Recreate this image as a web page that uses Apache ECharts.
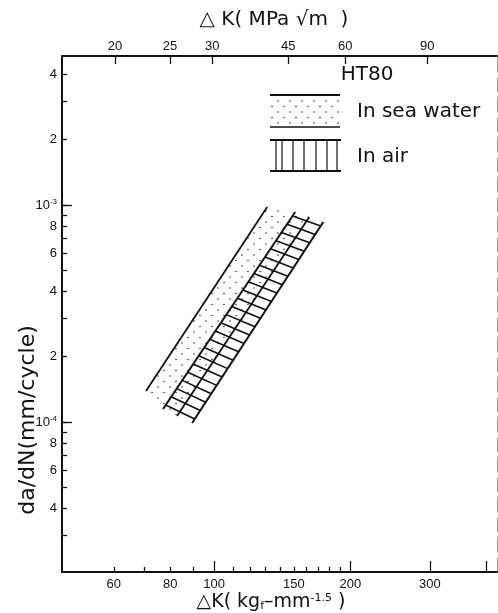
<!DOCTYPE html>
<html><head><meta charset="utf-8">
<script src="https://cdn.jsdelivr.net/npm/echarts@6/dist/echarts.min.js"></script>
<style>html,body{margin:0;padding:0;background:#fff}#c{width:498px;height:613px}</style>
</head><body><div id="c"></div>
<script>
// ---- data (ΔK in kgf·mm^-1.5, da/dN in mm/cycle) ----
const seaUpper = [[70.7, 1.39e-4], [131.0, 9.79e-4]];
const seaLower = [[82.8, 1.067e-4], [162.3, 8.81e-4]];
const airLeft  = [[77.1, 1.148e-4], [151.1, 9.28e-4]];
const airMid   = [[82.8, 1.067e-4], [162.3, 8.81e-4]];
const airRight = [[89.4, 9.9e-5], [174.3, 8.35e-4]];

const xMinorTicks = [60, 70, 80, 90, 110, 120, 130, 140, 150, 160, 170, 180, 190];
const xMajorTicks = [100, 200, 300, 400];
const xTickLabels = [60, 80, 100, 150, 200, 300];
const topTickLabels = ['20', '25', '30', '45', '60', '90'];
const topTickPos = [60.4, 79.9, 99.0, 145.8, 194.9, 296.0];
const yTicks = [4e-3, 3e-3, 2e-3, 1e-3, 9e-4, 8e-4, 7e-4, 6e-4, 5e-4, 4e-4, 3e-4, 2e-4,
                1e-4, 9e-5, 8e-5, 7e-5, 6e-5, 5e-5, 4e-5, 3e-5];
const yDecadeTicks = [1e-3, 1e-4];
const yTickLabels = [4e-3, 2e-3, 1e-3, 8e-4, 6e-4, 4e-4, 2e-4, 1e-4, 8e-5, 6e-5, 4e-5];
const rungCount = 24;

const X_MIN = 46.1, X_MAX = 422, Y_MIN = 2.036e-5, Y_MAX = 4.86e-3;
const FONT = 'Liberation Sans';
const TFONT = 'DejaVu Sans';
const INK = '#111';

function dotPattern() {
  const c = document.createElement('canvas');
  c.width = 12; c.height = 11;
  const g = c.getContext('2d');
  g.fillStyle = '#222';
  g.beginPath(); g.arc(2, 2, 0.75, 0, 7); g.fill();
  g.beginPath(); g.arc(8, 7.5, 0.75, 0, 7); g.fill();
  return c;
}
const dots = dotPattern();

function yFmt(v) {
  const e = Math.floor(Math.log10(v) + 1e-9);
  const m = Math.round(v / Math.pow(10, e));
  if (m === 1) return '10{sup|' + e + '}';
  return String(m);
}
function topFmt(v) {
  for (let i = 0; i < topTickPos.length; i++) {
    if (Math.abs(topTickPos[i] - v) < 0.05) return topTickLabels[i];
  }
  return '';
}

const chart = echarts.init(document.getElementById('c'), null, {renderer: 'canvas'});

const lineSeries = (d, w) => ({
  type: 'line', data: d, symbol: 'none', silent: true, z: 5,
  lineStyle: {color: INK, width: w}, animation: false
});

chart.setOption({
  animation: false,
  backgroundColor: '#fff',
  grid: {left: 62, right: 1, top: 56, bottom: 41},
  xAxis: [
    { type: 'log', min: X_MIN, max: X_MAX, position: 'bottom',
      axisLine: {show: true, onZero: false, lineStyle: {color: INK, width: 2}},
      axisTick: {show: true, inside: true, length: 5, customValues: xMinorTicks, lineStyle: {color: INK, width: 1.3}},
      axisLabel: {show: true, customValues: xTickLabels, margin: 6, color: INK, fontFamily: FONT, fontSize: 13},
      splitLine: {show: false}, minorTick: {show: false} },
    { type: 'log', min: X_MIN, max: X_MAX, position: 'top',
      axisLine: {show: true, onZero: false, lineStyle: {color: INK, width: 2}},
      axisTick: {show: true, inside: true, length: 8, customValues: topTickPos, lineStyle: {color: INK, width: 1.3}},
      axisLabel: {show: true, customValues: topTickPos, formatter: topFmt, margin: 3, color: INK, fontFamily: FONT, fontSize: 13},
      splitLine: {show: false} },
    { type: 'log', min: X_MIN, max: X_MAX, position: 'bottom',
      axisLine: {show: false},
      axisTick: {show: true, inside: true, length: 11, customValues: xMajorTicks, lineStyle: {color: INK, width: 1.3}},
      axisLabel: {show: false}, splitLine: {show: false} }
  ],
  yAxis: [
    { type: 'log', min: Y_MIN, max: Y_MAX, position: 'left',
      axisLine: {show: true, onZero: false, lineStyle: {color: INK, width: 2}},
      axisTick: {show: true, inside: true, length: 5, customValues: yTicks, lineStyle: {color: INK, width: 1.3}},
      axisLabel: {show: true, customValues: yTickLabels, formatter: yFmt, margin: 5, color: INK,
        fontFamily: FONT, fontSize: 13,
        rich: {sup: {fontSize: 8, verticalAlign: 'top', padding: [0, 0, 7, 0], fontFamily: FONT, color: INK}}},
      splitLine: {show: false} },
    { type: 'log', min: Y_MIN, max: Y_MAX, position: 'right',
      axisLine: {show: true, onZero: false, lineStyle: {color: '#999', width: 1, type: [14, 6]}},
      axisTick: {show: false}, axisLabel: {show: false}, splitLine: {show: false} },
    { type: 'log', min: Y_MIN, max: Y_MAX, position: 'left',
      axisLine: {show: false},
      axisTick: {show: true, inside: true, length: 10, customValues: yDecadeTicks, lineStyle: {color: INK, width: 1.3}},
      axisLabel: {show: false}, splitLine: {show: false} }
  ],
  series: [
    { type: 'custom', silent: true, z: 2, data: [[100, 3e-4]],
      renderItem: function (params, api) {
        const pts = [api.coord(seaUpper[0]), api.coord(seaUpper[1]), api.coord(seaLower[1]), api.coord(seaLower[0])];
        return {type: 'polygon', shape: {points: pts}, style: {fill: {image: dots, repeat: 'repeat'}, stroke: null}};
      } },
    { type: 'custom', silent: true, z: 6, data: [[100, 3e-4]],
      renderItem: function (params, api) {
        const l0 = api.coord(airLeft[0]), l1 = api.coord(airLeft[1]);
        const r0 = api.coord(airRight[0]), r1 = api.coord(airRight[1]);
        const children = [];
        for (let i = 0; i < rungCount; i++) {
          const t = 0.02 + 0.96 * i / (rungCount - 1);
          children.push({type: 'line',
            shape: {x1: l0[0] + (l1[0] - l0[0]) * t, y1: l0[1] + (l1[1] - l0[1]) * t,
                    x2: r0[0] + (r1[0] - r0[0]) * t, y2: r0[1] + (r1[1] - r0[1]) * t},
            style: {stroke: INK, lineWidth: 1.6}});
        }
        return {type: 'group', children: children};
      } },
    lineSeries(seaUpper, 1.8),
    lineSeries(airLeft, 2),
    lineSeries(airMid, 1.8),
    lineSeries(airRight, 2)
  ],
  graphic: [
    { type: 'text', x: 274, y: 20, style: {text: '△ K( MPa √m  )', font: '20px ' + TFONT, fill: INK, align: 'center', verticalAlign: 'middle'} },
    { type: 'text', x: 271, y: 602, style: {
        text: '△K( kg{sub|f}–mm{sup|-1.5} )', font: '19px ' + TFONT, fill: INK, align: 'center', verticalAlign: 'middle',
        rich: {sub: {fontSize: 11, verticalAlign: 'bottom', padding: [6, 0, 0, 0], fontFamily: TFONT, fill: INK},
               sup: {fontSize: 11, verticalAlign: 'top', padding: [0, 0, 8, 0], fontFamily: TFONT, fill: INK}}} },
    { type: 'text', x: 28, y: 420, rotation: Math.PI / 2, style: {text: 'da/dN(mm/cycle)', font: '22px ' + TFONT, fill: INK, align: 'center', verticalAlign: 'middle'} },
    { type: 'text', x: 367, y: 75, style: {text: 'HT80', font: '20px ' + TFONT, fill: INK, align: 'center', verticalAlign: 'middle'} },
    { type: 'text', x: 357, y: 112, style: {text: 'In sea water', font: '20px ' + TFONT, fill: INK, align: 'left', verticalAlign: 'middle'} },
    { type: 'text', x: 357, y: 157, style: {text: 'In air', font: '20px ' + TFONT, fill: INK, align: 'left', verticalAlign: 'middle'} },
    { type: 'rect', shape: {x: 271, y: 97, width: 68, height: 28}, style: {fill: {image: dots, repeat: 'repeat'}} },
    { type: 'line', shape: {x1: 270, y1: 95, x2: 340, y2: 95}, style: {stroke: INK, lineWidth: 2} },
    { type: 'line', shape: {x1: 270, y1: 127, x2: 340, y2: 127}, style: {stroke: INK, lineWidth: 1.5} },
    { type: 'line', shape: {x1: 270, y1: 140, x2: 341, y2: 140}, style: {stroke: INK, lineWidth: 2} },
    { type: 'line', shape: {x1: 270, y1: 171, x2: 341, y2: 171}, style: {stroke: INK, lineWidth: 2} },
    ...[276, 282, 293, 304, 316, 327, 337].map(x => ({type: 'line', shape: {x1: x, y1: 140, x2: x, y2: 171}, style: {stroke: INK, lineWidth: 1.2}}))
  ]
});
</script>
</body></html>
